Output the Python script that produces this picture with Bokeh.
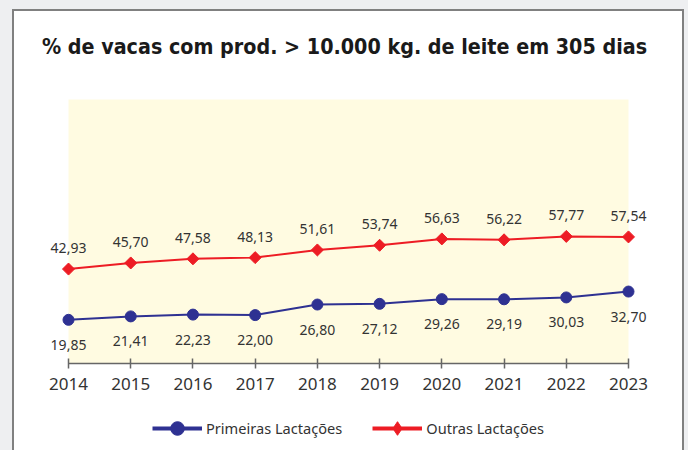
import math
from bokeh.plotting import figure
from bokeh.layouts import column
from bokeh.models import Range1d, BoxAnnotation, Label, Legend, LegendItem, ColumnDataSource
from bokeh.core.properties import value
from bokeh.embed import file_html
from bokeh.resources import INLINE

# ---- data ----
years = [2014, 2015, 2016, 2017, 2018, 2019, 2020, 2021, 2022, 2023]
primeiras = [19.85, 21.41, 22.23, 22.00, 26.80, 27.12, 29.26, 29.19, 30.03, 32.70]
outras = [42.93, 45.70, 47.58, 48.13, 51.61, 53.74, 56.63, 56.22, 57.77, 57.54]
series_names = ["Primeiras Lactações", "Outras Lactações"]
title_text = "% de vacas com prod. > 10.000 kg. de leite em 305 dias"
y_max = 120

BLUE = "#2e3192"
RED = "#ed1c24"
TXT = "#333333"


def fmt(v):
    return f"{v:.2f}".replace(".", ",")


src = ColumnDataSource(dict(
    x=years,
    p=primeiras,
    o=outras,
    pl=[fmt(v) for v in primeiras],
    ol=[fmt(v) for v in outras],
))

W = 688
H_MAIN, H_LEG = 400, 50
p = figure(width=W, height=H_MAIN, output_backend="svg", toolbar_location=None,
           x_range=Range1d(2012.9071, 2023.9643), y_range=Range1d(0, 165.0),
           y_axis_location=None,
           min_border_left=0, min_border_right=0, min_border_top=0, min_border_bottom=37)
p.grid.visible = False
p.outline_line_color = None
p.background_fill_alpha = 0
p.border_fill_alpha = 0

# yellow plot area
area = BoxAnnotation(left=years[0], right=years[-1], bottom=0, top=y_max,
                     fill_color="#fffbe1", fill_alpha=1, line_color=None, level="underlay")
p.add_layout(area)

# series
p.line("x", "p", source=src, line_color=BLUE, line_width=2)
p.scatter("x", "p", source=src, size=11, fill_color=BLUE, line_color=BLUE)
p.line("x", "o", source=src, line_color=RED, line_width=2)
p.scatter("x", "o", source=src, marker="square", angle=math.pi / 4, size=8.5,
          fill_color=RED, line_color=RED)

# data labels
p.text("x", "o", text="ol", source=src, text_font=value("Noto Sans"), text_font_size="14px",
       text_color=TXT, text_align="center", text_baseline="middle", y_offset=-21)
p.text("x", "p", text="pl", source=src, text_font=value("Noto Sans"), text_font_size="14px",
       text_color=TXT, text_align="center", text_baseline="middle", y_offset=25)

# axis
ax = p.xaxis[0]
ax.ticker = years
ax.bounds = (years[0], years[-1])
ax.axis_line_color = "#666666"
ax.axis_line_width = 1.5
ax.major_tick_line_color = "#666666"
ax.major_tick_line_width = 1.5
ax.major_tick_in = 5
ax.major_tick_out = 5
ax.minor_tick_line_color = None
ax.major_label_text_font = "Noto Sans"
ax.major_label_text_font_size = "17px"
ax.major_label_text_color = TXT
ax.major_label_standoff = 9

# title
p.add_layout(Label(x=344, y=317, x_units="screen", y_units="screen", text=title_text,
                   text_font="DejaVu Sans Condensed", text_font_style="bold",
                   text_font_size="21.3px", text_color="#1a1a1a",
                   text_align="center", text_baseline="middle"))

# legend strip (series drawn out of view, only their legend glyphs show)
q = figure(width=W, height=H_LEG, output_backend="svg", toolbar_location=None,
           x_range=Range1d(0, 1), y_range=Range1d(0, 1),
           x_axis_location=None, y_axis_location=None,
           min_border_left=0, min_border_right=0, min_border_top=0, min_border_bottom=0)
q.grid.visible = False
q.outline_line_color = None
q.background_fill_alpha = 0
q.border_fill_alpha = 0
lb_line = q.line("x", "p", source=src, line_color=BLUE, line_width=4)
lb_mark = q.scatter("x", "p", source=src, size=14, fill_color=BLUE, line_color=BLUE)
lr_line = q.line("x", "o", source=src, line_color=RED, line_width=4)
lr_mark = q.scatter("x", "o", source=src, marker="diamond", size=16,
                    fill_color=RED, line_color=RED)
legend = Legend(items=[LegendItem(label=series_names[0], renderers=[lb_line, lb_mark]),
                       LegendItem(label=series_names[1], renderers=[lr_line, lr_mark])],
                location=(152, 5), orientation="horizontal",
                glyph_width=50, glyph_height=34, label_standoff=4, spacing=30,
                padding=0, margin=0, border_line_color=None, background_fill_alpha=0,
                label_text_font="Noto Sans", label_text_font_size="14.6px",
                label_text_color=TXT)
q.add_layout(legend)

g = "#808080"
layout = column(p, q, spacing=0)
layout.styles = {
    "background": (
        f"linear-gradient({g},{g}) 12px 9px/2px 600px no-repeat, "
        f"linear-gradient({g},{g}) 682px 9px/2px 600px no-repeat, "
        f"linear-gradient({g},{g}) 12px 9px/672px 2px no-repeat, "
        "linear-gradient(#ffffff,#ffffff) 12px 9px/672px 600px no-repeat, "
        "#eeeff1"
    )
}

open("out.html", "w").write(file_html(layout, INLINE))
